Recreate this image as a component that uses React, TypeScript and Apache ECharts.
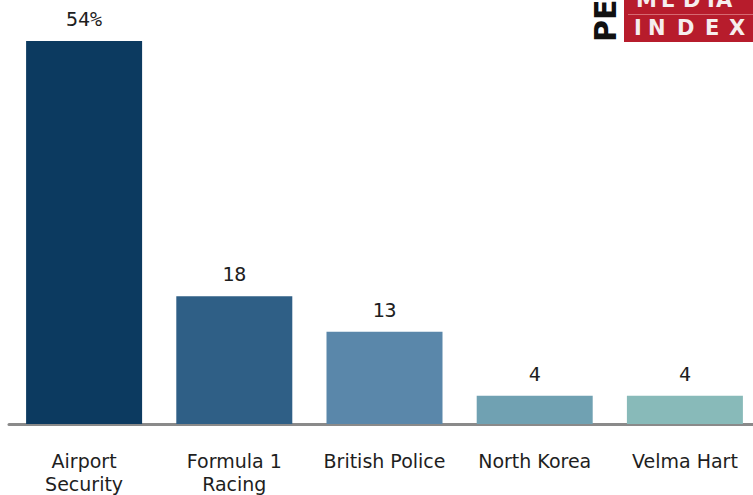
import React, { useEffect, useRef } from "react";
import * as echarts from "echarts";

const categories = ["Airport\nSecurity", "Formula 1\nRacing", "British Police", "North Korea", "Velma Hart"];
const values = [54, 18, 13, 4, 4];
const valueLabels = ["54%", "18", "13", "4", "4"];
const barColors = ["#0c3a60", "#2f5f86", "#5a87aa", "#70a1b2", "#88bab9"];
const logoTop = ["M", "E", "D", "I", "A"];
const logoTopX = [636, 661, 683, 707, 716];
const logoBottom = ["I", "N", "D", "E", "X"];
const logoBottomX = [634, 648, 677, 705, 729];

export default function App() {
  const ref = useRef<HTMLDivElement>(null);
  useEffect(() => {
    if (!ref.current) return;
    const chart = echarts.init(ref.current, undefined, { renderer: "svg" });
    const letter = (t: string, x: number, y: number) => ({
      type: "text",
      style: { text: t, x, y, fill: "#f6eeee", fontFamily: "DejaVu Sans", fontSize: 21, fontWeight: "bold", textVerticalAlign: "bottom" },
    });
    chart.setOption({
      animation: false,
      backgroundColor: "#ffffff",
      grid: { left: 9, width: 751, top: 41, height: 383, containLabel: false, outerBoundsMode: "none" },
      xAxis: {
        type: "category",
        data: categories,
        axisLine: { show: true, lineStyle: { color: "#8a8a8a", width: 3 } },
        axisTick: { show: false },
        axisLabel: {
          interval: 0,
          margin: 25,
          fontFamily: "DejaVu Sans",
          fontSize: 19,
          lineHeight: 23,
          color: "#1e1e1e",
        },
      },
      yAxis: { type: "value", min: 0, max: 54, show: false, splitLine: { show: false } },
      series: [
        {
          type: "bar",
          barWidth: 116,
          data: values.map((v, i) => ({ value: v, itemStyle: { color: barColors[i] } })),
          label: {
            show: true,
            position: "top",
            distance: 12,
            fontFamily: "DejaVu Sans Mono",
            fontSize: 20,
            color: "#1e1e1e",
            formatter: (p: any) => valueLabels[p.dataIndex],
          },
        },
      ],
      graphic: [
        { type: "rect", shape: { x: 624, y: -2, width: 140, height: 44 }, style: { fill: "#b71c2c" } },
        { type: "rect", shape: { x: 628, y: 14, width: 130, height: 1 }, style: { fill: "#d66a72" } },
        ...logoTop.map((t, i) => letter(t, logoTopX[i], 10)),
        ...logoBottom.map((t, i) => letter(t, logoBottomX[i], 38)),
        {
          type: "text",
          x: 620,
          y: 42,
          rotation: Math.PI / 2,
          style: { text: "PEW", x: 0, y: 0, fill: "#111111", fontFamily: "DejaVu Sans", fontSize: 30, fontWeight: "bold", textVerticalAlign: "bottom" },
        },
      ],
    });
    return () => chart.dispose();
  }, []);
  return <div ref={ref} style={{ position: "fixed", left: 0, top: 0, width: 753, height: 495 }} />;
}
